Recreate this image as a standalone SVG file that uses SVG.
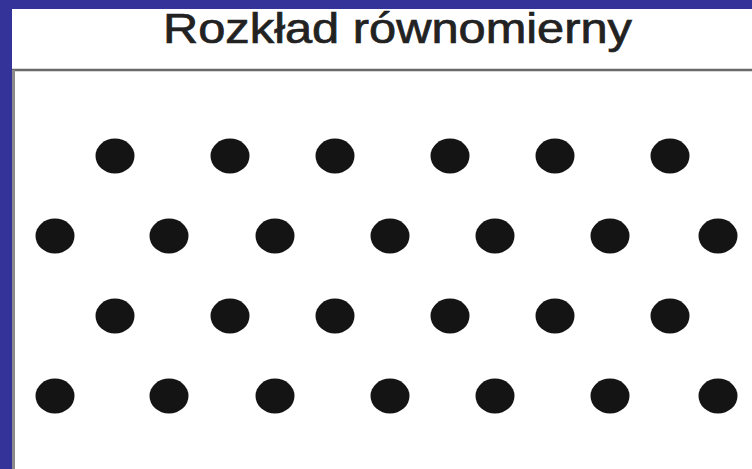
<svg xmlns="http://www.w3.org/2000/svg" width="752" height="469" viewBox="0 0 752 469">
<style>
.dot{fill:#141414}
.title{font-family:"Liberation Sans",Arial,sans-serif;font-size:42px;fill:#222;stroke:#222;stroke-width:0.7}
</style>
<rect x="0" y="0" width="752" height="469" fill="#34339a"/>
<rect x="12" y="9" width="740" height="460" fill="#ffffff"/>
<line x1="12" y1="70" x2="752" y2="70" stroke="#6a6a6a" stroke-width="2.5"/>
<line x1="13.5" y1="70" x2="13.5" y2="469" stroke="#8a8a8a" stroke-width="3"/>
<text id="title" class="title" x="163" y="43" textLength="469" lengthAdjust="spacingAndGlyphs">Rozkład równomierny</text>
<g id="dots">
<g id="row1">
<ellipse class="dot" cx="115" cy="156" rx="19.5" ry="17.5"/>
<ellipse class="dot" cx="230" cy="156" rx="19.5" ry="17.5"/>
<ellipse class="dot" cx="335" cy="156" rx="19.5" ry="17.5"/>
<ellipse class="dot" cx="450" cy="156" rx="19.5" ry="17.5"/>
<ellipse class="dot" cx="555" cy="156" rx="19.5" ry="17.5"/>
<ellipse class="dot" cx="670" cy="156" rx="19.5" ry="17.5"/>
</g>
<g id="row2">
<ellipse class="dot" cx="55" cy="236" rx="19.5" ry="17.5"/>
<ellipse class="dot" cx="169" cy="236" rx="19.5" ry="17.5"/>
<ellipse class="dot" cx="275" cy="236" rx="19.5" ry="17.5"/>
<ellipse class="dot" cx="390" cy="236" rx="19.5" ry="17.5"/>
<ellipse class="dot" cx="495" cy="236" rx="19.5" ry="17.5"/>
<ellipse class="dot" cx="610" cy="236" rx="19.5" ry="17.5"/>
<ellipse class="dot" cx="718" cy="236" rx="19.5" ry="17.5"/>
</g>
<g id="row3">
<ellipse class="dot" cx="115" cy="316" rx="19.5" ry="17.5"/>
<ellipse class="dot" cx="230" cy="316" rx="19.5" ry="17.5"/>
<ellipse class="dot" cx="335" cy="316" rx="19.5" ry="17.5"/>
<ellipse class="dot" cx="450" cy="316" rx="19.5" ry="17.5"/>
<ellipse class="dot" cx="555" cy="316" rx="19.5" ry="17.5"/>
<ellipse class="dot" cx="670" cy="316" rx="19.5" ry="17.5"/>
</g>
<g id="row4">
<ellipse class="dot" cx="55" cy="396" rx="19.5" ry="17.5"/>
<ellipse class="dot" cx="169" cy="396" rx="19.5" ry="17.5"/>
<ellipse class="dot" cx="275" cy="396" rx="19.5" ry="17.5"/>
<ellipse class="dot" cx="390" cy="396" rx="19.5" ry="17.5"/>
<ellipse class="dot" cx="495" cy="396" rx="19.5" ry="17.5"/>
<ellipse class="dot" cx="610" cy="396" rx="19.5" ry="17.5"/>
<ellipse class="dot" cx="718" cy="396" rx="19.5" ry="17.5"/>
</g>
</g>
</svg>
